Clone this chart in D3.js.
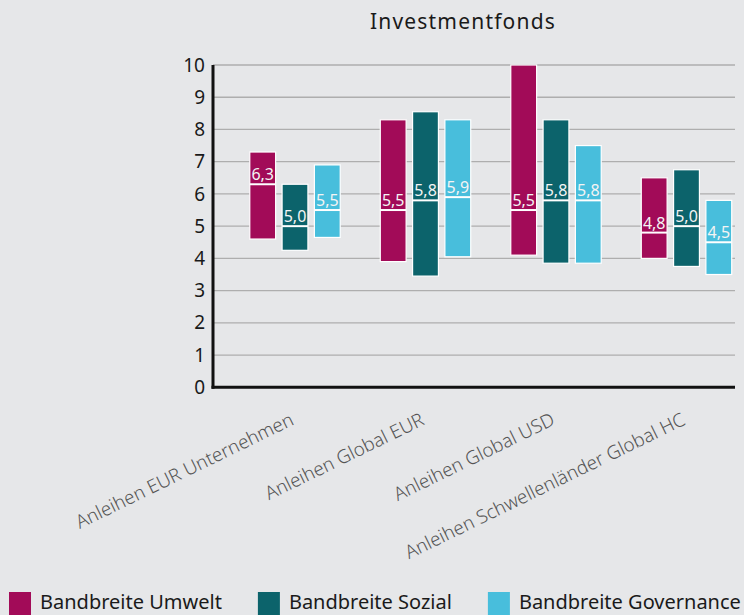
<!DOCTYPE html>
<html>
<head>
<meta charset="utf-8">
<script src="https://cdn.jsdelivr.net/npm/d3@7"></script>
<style>
html,body{margin:0;padding:0;background:#e6e7e9;}
svg{display:block;}
</style>
</head>
<body>
<svg id="chart" width="744" height="615"></svg>
<script>
const categories = ["Anleihen EUR Unternehmen", "Anleihen Global EUR", "Anleihen Global USD", "Anleihen Schwellenländer Global HC"];
const seriesNames = ["Bandbreite Umwelt", "Bandbreite Sozial", "Bandbreite Governance"];
const umweltMin = [4.6, 3.9, 4.1, 4.0];
const umweltMax = [7.3, 8.3, 10.0, 6.5];
const umweltMid = [6.3, 5.5, 5.5, 4.8];
const sozialMin = [4.25, 3.45, 3.85, 3.75];
const sozialMax = [6.3, 8.55, 8.3, 6.75];
const sozialMid = [5.0, 5.8, 5.8, 5.0];
const govMin = [4.65, 4.05, 3.85, 3.5];
const govMax = [6.9, 8.3, 7.5, 5.8];
const govMid = [5.5, 5.9, 5.8, 4.5];
const yTicks = [0, 1, 2, 3, 4, 5, 6, 7, 8, 9, 10];
const colors = ["#a20b58", "#0c636b", "#48bedc"];
const title = "Investmentfonds";

const seriesData = [
  {name: seriesNames[0], min: umweltMin, max: umweltMax, mid: umweltMid, color: colors[0]},
  {name: seriesNames[1], min: sozialMin, max: sozialMax, mid: sozialMid, color: colors[1]},
  {name: seriesNames[2], min: govMin, max: govMax, mid: govMid, color: colors[2]}
];

const svg = d3.select("#chart");
const FONT = "'Noto Sans', 'Open Sans', sans-serif";

const plotLeft = 213, plotRight = 735;
const y = d3.scaleLinear().domain([0, 10]).range([387.3, 65]);
const x0 = d3.scaleBand().domain(categories).range([229.75, 751.75]);
const x1 = d3.scaleBand().domain(seriesNames).range([0, x0.bandwidth()]).paddingInner(0.2).paddingOuter(0.62);

// title
svg.append("text").attr("x", 463).attr("y", 29).attr("text-anchor", "middle")
  .attr("font-family", FONT).attr("font-size", 21).attr("letter-spacing", 1.2).attr("fill", "#1a1a1a").text(title);

// gridlines
svg.append("g").selectAll("line").data(yTicks.filter(d => d > 0)).join("line")
  .attr("x1", plotLeft).attr("x2", plotRight)
  .attr("y1", d => y(d)).attr("y2", d => y(d))
  .attr("stroke", "#aeaeae").attr("stroke-width", 1.3);

// y tick labels
svg.append("g").selectAll("text").data(yTicks).join("text")
  .attr("x", 205).attr("y", d => y(d)).attr("dy", "0.35em")
  .attr("text-anchor", "end").attr("font-family", FONT).attr("font-size", 19).attr("fill", "#1a1a1a")
  .text(d => d);

// bars
const groups = svg.append("g").selectAll("g").data(seriesData).join("g");
groups.each(function(s) {
  const g = d3.select(this);
  categories.forEach((c, i) => {
    const bx = x0(c) + x1(s.name);
    const bw = x1.bandwidth();
    g.append("rect")
      .attr("x", bx).attr("y", y(s.max[i]))
      .attr("width", bw).attr("height", y(s.min[i]) - y(s.max[i]))
      .attr("fill", s.color).attr("stroke", "#ffffff").attr("stroke-width", 1.2);
    g.append("line")
      .attr("x1", bx).attr("x2", bx + bw)
      .attr("y1", y(s.mid[i])).attr("y2", y(s.mid[i]))
      .attr("stroke", "#ffffff").attr("stroke-width", 2);
    g.append("text")
      .attr("x", bx + bw / 2).attr("y", y(s.mid[i]) - 4)
      .attr("text-anchor", "middle").attr("font-family", FONT).attr("font-size", 16)
      .attr("fill", "#f4f4f4")
      .text(d3.format(".1f")(s.mid[i]).replace(".", ","));
  });
});

// axes lines
svg.append("line").attr("x1", plotLeft).attr("x2", plotLeft).attr("y1", y(10)).attr("y2", y(0) + 1.5)
  .attr("stroke", "#111").attr("stroke-width", 3);
svg.append("line").attr("x1", plotLeft - 1.5).attr("x2", plotRight).attr("y1", y(0)).attr("y2", y(0))
  .attr("stroke", "#111").attr("stroke-width", 3);

// category labels
svg.append("g").selectAll("text").data(categories).join("text")
  .attr("transform", d => `translate(${x0(d) + x0.bandwidth() / 2},424) rotate(-26)`)
  .attr("text-anchor", "end").attr("font-family", FONT).attr("font-weight", 300)
  .attr("font-size", 18.8).attr("fill", "#555555")
  .text(d => d);

// legend
const legend = svg.append("g");
let lx = 9;
seriesData.forEach(s => {
  legend.append("rect").attr("x", lx).attr("y", 592).attr("width", 22).attr("height", 24).attr("fill", s.color);
  const t = legend.append("text").attr("x", lx + 31).attr("y", 609)
    .attr("font-family", FONT).attr("font-size", 20).attr("fill", "#1a1a1a").text(s.name);
  lx += 31 + t.node().getComputedTextLength() + 36;
});
</script>
</body>
</html>
